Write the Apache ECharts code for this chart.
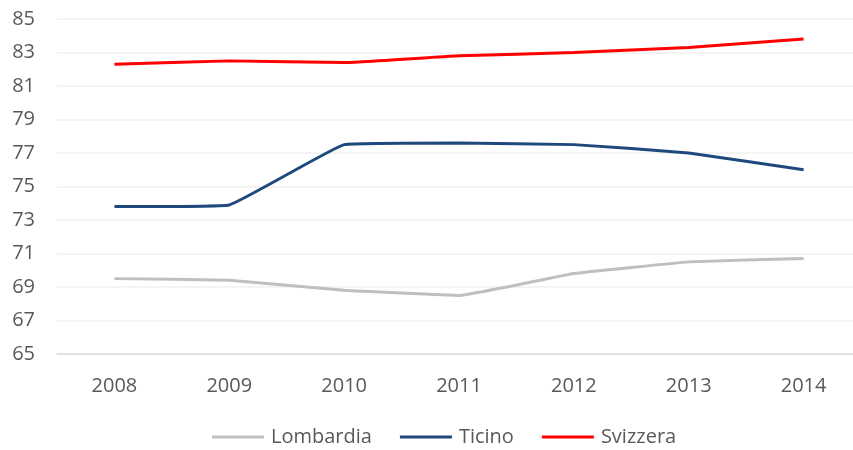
<!DOCTYPE html>
<html>
<head>
<meta charset="utf-8">
<script src="https://cdn.jsdelivr.net/npm/echarts@6/dist/echarts.min.js"></script>
<style>
  html, body { margin:0; padding:0; background:#fff; overflow:hidden; }
  #chart { width:861px; height:450px; }
</style>
</head>
<body>
<div id="chart"></div>
<script>
// anni sull'asse x
const years = ['2008','2009','2010','2011','2012','2013','2014'];
// valori per serie
const lombardia = [69.5, 69.4, 68.8, 68.5, 69.8, 70.5, 70.7];
const ticino = [73.8, 73.9, 77.5, 77.6, 77.5, 77.0, 76.0];
const svizzera = [82.3, 82.5, 82.4, 82.8, 83.0, 83.3, 83.8];

const FONT = '"Open Sans", sans-serif';

function makeLine(name, data, color){
    return {
        name: name,
        type: 'line',
        data: data,
        symbol: 'none',
        smooth: 0.08,
        lineStyle: { color: color, width: 3 },
        itemStyle: { color: color }
    };
}

// il grafico esce di qualche pixel a destra, come nell'originale
let myChart = echarts.init(document.getElementById('chart'));
let option = {
    animation: false,
    grid: {
        top: 19,
        bottom: 96,
        left: 57,
        right: 0
    },
    legend: {
        top: 427,
        left: 212,
        padding: 0,
        icon: 'rect',
        itemWidth: 52,
        itemHeight: 3,
        itemGap: 28,
        textStyle: { color: '#595959', fontSize: 20, fontFamily: FONT, padding: [0, 0, 0, 2] },
        data: ['Lombardia', 'Ticino', 'Svizzera']
    },
    xAxis: {
        type: 'category',
        data: years,
        axisLine: { lineStyle: { color: '#d9d9d9', width: 1.5 } },
        axisTick: { show: false },
        axisLabel: { color: '#595959', fontSize: 20, fontFamily: FONT, margin: 22 }
    },
    yAxis: {
        type: 'value',
        min: 65,
        max: 85,
        interval: 2,
        axisLine: { show: false },
        axisTick: { show: false },
        axisLabel: { color: '#595959', fontSize: 20, fontFamily: FONT, margin: 22 },
        splitLine: { lineStyle: { color: '#f0f0f0', width: 1.5 } }
    },
    series: [
        makeLine('Lombardia', lombardia, '#bfbfbf'),
        makeLine('Ticino', ticino, '#1f497d'),
        makeLine('Svizzera', svizzera, '#ff0000')
    ]
};
myChart.setOption(option);
</script>
</body>
</html>
